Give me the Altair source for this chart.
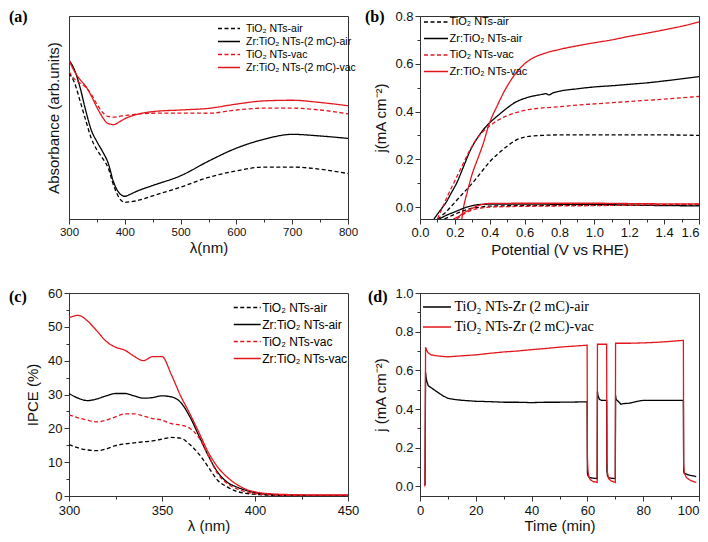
import altair as alt
import pandas as pd

RED = "#e3161d"
BLACK = "#000000"
DASH = [4, 2.5]
SOLID = [1, 0]
SANS = "Liberation Sans"
SERIF = "Liberation Serif"
W, H = 279, 203

# ---------------- (a) absorbance ----------------
a_wl = [300, 310, 320, 330, 340, 350, 360, 370, 380, 390, 400, 410, 420, 450, 500, 550, 600, 650, 700, 750, 800]
a_tio2_air = [0.718, 0.67, 0.58, 0.486, 0.397, 0.341, 0.30, 0.253, 0.165, 0.104, 0.082, 0.085, 0.089, 0.114, 0.157, 0.205, 0.237, 0.256, 0.256, 0.245, 0.224]
a_zr_air = [0.782, 0.734, 0.646, 0.534, 0.4375, 0.381, 0.333, 0.277, 0.181, 0.128, 0.112, 0.122, 0.135, 0.165, 0.213, 0.285, 0.349, 0.393, 0.417, 0.409, 0.397]
a_tio2_vac = [0.726, 0.689, 0.67, 0.649, 0.614, 0.566, 0.526, 0.505, 0.502, 0.505, 0.51, 0.513, 0.516, 0.521, 0.522, 0.521, 0.537, 0.546, 0.546, 0.537, 0.518]
a_zr_vac = [0.782, 0.726, 0.686, 0.654, 0.606, 0.55, 0.502, 0.47, 0.465, 0.478, 0.494, 0.505, 0.514, 0.529, 0.537, 0.545, 0.566, 0.582, 0.585, 0.574, 0.558]
a_names = ["TiO₂ NTs-air", "Zr:TiO₂ NTs-(2 mC)-air", "TiO₂ NTs-vac", "Zr:TiO₂ NTs-(2 mC)-vac"]

# ---------------- (b) J-V ----------------
b_names = ["TiO₂ NTs-air", "Zr:TiO₂ NTs-air", "TiO₂ NTs-vac", "Zr:TiO₂ NTs-vac"]
b_v_tio2_air = [0.10, 0.15, 0.20, 0.25, 0.30, 0.35, 0.40, 0.45, 0.50, 0.55, 0.60, 0.65, 0.70, 0.80, 1.0, 1.2, 1.4, 1.6]
b_j_tio2_air = [-0.05, -0.02, 0.02, 0.06, 0.10, 0.145, 0.19, 0.225, 0.255, 0.28, 0.293, 0.298, 0.30, 0.302, 0.302, 0.302, 0.302, 0.30]
b_v_zr_air = [0.08, 0.12, 0.15, 0.18, 0.21, 0.25, 0.29, 0.33, 0.37, 0.41, 0.45, 0.50, 0.55, 0.60, 0.65, 0.70, 0.72, 0.74, 0.76, 0.80, 0.90, 1.0, 1.1, 1.2, 1.3, 1.4, 1.5, 1.6]
b_j_zr_air = [-0.05, -0.01, 0.02, 0.06, 0.10, 0.17, 0.24, 0.29, 0.33, 0.36, 0.385, 0.415, 0.44, 0.455, 0.465, 0.472, 0.475, 0.47, 0.477, 0.485, 0.495, 0.503, 0.508, 0.514, 0.52, 0.528, 0.537, 0.546]
b_v_tio2_vac = [0.10, 0.13, 0.16, 0.20, 0.24, 0.28, 0.32, 0.36, 0.40, 0.45, 0.50, 0.55, 0.60, 0.70, 0.80, 0.90, 1.0, 1.2, 1.4, 1.6]
b_j_tio2_vac = [-0.05, 0.0, 0.05, 0.11, 0.17, 0.23, 0.28, 0.315, 0.34, 0.365, 0.383, 0.395, 0.405, 0.415, 0.42, 0.427, 0.432, 0.442, 0.452, 0.463]
b_v_zr_vac = [0.24, 0.245, 0.25, 0.27, 0.30, 0.33, 0.36, 0.40, 0.44, 0.48, 0.52, 0.56, 0.60, 0.65, 0.70, 0.80, 0.90, 1.0, 1.1, 1.2, 1.3, 1.4, 1.5, 1.6]
b_j_zr_vac = [-0.05, -0.02, 0.0, 0.06, 0.14, 0.20, 0.26, 0.355, 0.42, 0.48, 0.53, 0.57, 0.60, 0.625, 0.64, 0.66, 0.675, 0.688, 0.70, 0.715, 0.728, 0.742, 0.757, 0.775]
# dark currents
b_vd_tio2_air = [0.14, 0.2, 0.25, 0.3, 0.35, 0.4, 0.6, 1.0, 1.6]
b_jd_tio2_air = [-0.05, -0.03, -0.015, -0.005, 0.0, 0.004, 0.006, 0.007, 0.008]
b_vd_zr_air = [0.11, 0.15, 0.20, 0.25, 0.30, 0.35, 0.40, 0.6, 1.0, 1.3, 1.6]
b_jd_zr_air = [-0.05, -0.035, -0.02, -0.005, 0.006, 0.011, 0.012, 0.012, 0.011, 0.007, 0.005]
b_vd_tio2_vac = [0.21, 0.25, 0.3, 0.35, 0.4, 0.6, 1.0, 1.3, 1.6]
b_jd_tio2_vac = [-0.05, -0.03, -0.012, -0.004, 0.0, 0.003, 0.006, 0.009, 0.012]
b_vd_zr_vac = [0.19, 0.22, 0.25, 0.3, 0.35, 0.4, 0.6, 1.0, 1.3, 1.6]
b_jd_zr_vac = [-0.05, -0.04, -0.025, -0.005, 0.01, 0.015, 0.016, 0.016, 0.014, 0.013]

# ---------------- (c) IPCE ----------------
c_wl = [300, 305, 310, 315, 320, 325, 330, 335, 340, 345, 350, 355, 360, 365, 370, 375, 380, 385, 390, 395, 400, 410, 420, 430, 450]
c_tio2_air = [15.2, 14.2, 13.6, 13.4, 13.9, 14.9, 15.4, 15.7, 16.0, 16.3, 16.8, 17.3, 17.1, 15.2, 12.3, 8.5, 4.6, 2.7, 1.4, 0.8, 0.5, 0.2, 0.15, 0.1, 0.1]
c_zr_air = [30.3, 28.9, 28.2, 28.7, 29.6, 30.3, 30.3, 29.6, 28.9, 29.1, 29.6, 29.3, 27.7, 23.4, 17.6, 11.8, 7.0, 4.1, 2.7, 1.7, 1.0, 0.4, 0.3, 0.2, 0.2]
c_tio2_vac = [24.0, 23.1, 22.4, 21.9, 22.4, 23.4, 24.3, 24.3, 23.6, 22.9, 22.4, 21.4, 21.0, 20.0, 17.1, 11.8, 6.5, 3.7, 2.2, 1.25, 0.7, 0.3, 0.2, 0.2, 0.2]
c_zr_vac = [52.7, 53.4, 51.7, 48.8, 45.7, 44.0, 43.1, 41.3, 40.0, 41.2, 41.2, 35.9, 29.6, 24.3, 18.6, 12.8, 8.5, 5.6, 3.5, 2.0, 1.25, 0.6, 0.4, 0.3, 0.3]
c_names = ["TiO₂ NTs-air", "Zr:TiO₂ NTs-air", "TiO₂ NTs-vac", "Zr:TiO₂ NTs-vac"]

# ---------------- (d) chronoamperometry ----------------
d_names = ["TiO₂ NTs-Zr (2 mC)-air", "TiO₂ NTs-Zr (2 mC)-vac"]
d_t_air = [1.6, 1.8, 2.0, 2.2, 2.5, 3, 4, 5, 6, 8, 10, 12, 15, 18, 20, 25, 30, 35, 40, 45, 50, 55, 59.9,
           60.0, 60.2, 60.5, 61.5, 63.5, 63.6, 63.8, 64.3, 65, 66.9,
           67.0, 67.2, 67.6, 68.5, 70.0, 70.1, 70.3, 71, 72, 73, 75, 78, 80, 85, 90, 94.4,
           94.5, 94.7, 95.5, 96.5, 97.5, 99]
d_j_air = [0.005, 0.01, 0.59, 0.56, 0.54, 0.52, 0.51, 0.50, 0.49, 0.47, 0.455, 0.45, 0.445, 0.442, 0.44, 0.438, 0.435, 0.435, 0.433, 0.435, 0.435, 0.436, 0.437,
           0.07, 0.055, 0.048, 0.043, 0.04, 0.49, 0.47, 0.45, 0.445, 0.445,
           0.08, 0.055, 0.045, 0.042, 0.04, 0.47, 0.45, 0.44, 0.425, 0.428, 0.43, 0.44, 0.445, 0.445, 0.445, 0.445,
           0.08, 0.068, 0.063, 0.058, 0.055, 0.05]
d_t_vac = [1.6, 1.8, 2.0, 2.5, 3, 4, 6, 8, 10, 12, 15, 20, 25, 30, 35, 40, 45, 50, 55, 59.9,
           60.0, 60.2, 60.5, 61, 62, 63.5, 63.6, 64, 66.9,
           67.0, 67.2, 67.6, 68.5, 70.0, 70.1, 70.5, 75, 80, 85, 90, 94.4,
           94.5, 94.7, 95.5, 97, 99]
d_j_vac = [0.0, 0.01, 0.72, 0.70, 0.69, 0.68, 0.675, 0.672, 0.67, 0.672, 0.675, 0.68, 0.688, 0.695, 0.70, 0.707, 0.713, 0.72, 0.725, 0.73,
           0.155, 0.08, 0.05, 0.035, 0.025, 0.02, 0.735, 0.735, 0.735,
           0.13, 0.07, 0.04, 0.028, 0.02, 0.74, 0.74, 0.74, 0.742, 0.745, 0.75, 0.755,
           0.115, 0.07, 0.045, 0.03, 0.02]

panel_labels = ["(a)", "(b)", "(c)", "(d)"]

# wide, flat legend line: a custom path twice as wide as its size box
LEGEND_LINE = "M-2,0H2"


def long_df(series):
    rows = []
    for name, grp, xs, ys in series:
        for k, (x, y) in enumerate(zip(xs, ys)):
            rows.append({"x": x, "y": y, "s": name, "g": grp, "i": k})
    return pd.DataFrame(rows)


def tick_size(test):
    return {"condition": {"test": test, "value": 5}, "value": 3}


def make_axis(values, test, title, fmt, label_size, title_pad, labels=True, ticks=True,
              label_pad=2, last=None):
    kw = dict(values=values, title=title, labelFontSize=label_size, titleFontSize=15,
              titlePadding=title_pad, labelPadding=label_pad, labelFlush=False,
              labelOverlap=False, labels=labels, ticks=ticks)
    if labels:
        kw["labelExpr"] = f"({test}) ? datum.label : ''"
    if ticks:
        kw["tickSize"] = tick_size(test)
    if fmt:
        kw["format"] = fmt
    if last is not None:
        kw["labelAlign"] = {"condition": {"test": f"datum.value >= {last}", "value": "right"},
                            "value": "center"}
    return alt.Axis(**kw)


def make_legend(x, y, font, size, row_pad, line_len, label_off):
    half = line_len / 2.0
    return alt.Legend(orient="none", legendX=x, legendY=y, title=None, symbolType=LEGEND_LINE,
                      symbolSize=half * half, symbolStrokeWidth=1.5, labelFont=font,
                      labelFontSize=size, rowPadding=row_pad, padding=0, labelOffset=label_off,
                      labelLimit=300)


def panel(df, names, colors, dashes, xdom, ydom, xaxis, yaxis, legend, label, lx, ly, interp):
    lines = alt.Chart(df).mark_line(strokeWidth=1.3, clip=True, interpolate=interp).encode(
        x=alt.X("x:Q", scale=alt.Scale(domain=xdom, nice=False, zero=False), axis=xaxis),
        y=alt.Y("y:Q", scale=alt.Scale(domain=ydom, nice=False, zero=False), axis=yaxis),
        color=alt.Color("s:N", scale=alt.Scale(domain=names, range=colors), legend=legend),
        strokeDash=alt.StrokeDash("s:N", scale=alt.Scale(domain=names, range=dashes), legend=legend),
        detail="g:N",
        order="i:Q",
    )
    tag = alt.Chart(pd.DataFrame({"t": [label]})).mark_text(
        font=SERIF, fontSize=16, fontWeight="bold", align="left", baseline="alphabetic",
        color="#000"
    ).encode(text="t:N", x=alt.value(lx), y=alt.value(ly))
    return alt.layer(lines, tag).properties(width=W, height=H)


colors4 = [BLACK, BLACK, RED, RED]
dashes4 = [DASH, SOLID, DASH, SOLID]

# (a)
df_a = long_df([(n, n, a_wl, ys) for n, ys in zip(a_names, [a_tio2_air, a_zr_air, a_tio2_vac, a_zr_vac])])
ch_a = panel(
    df_a, a_names, colors4, dashes4, [300, 800], [0, 1],
    make_axis(list(range(300, 801, 50)), "datum.value % 100 === 0", "λ(nm)", None, 11.5, 3),
    make_axis([0, 1], "true", "Absorbance (arb.units)", None, 11, 8, labels=False, ticks=False),
    make_legend(153.5, 6, SANS, 10.5, 1, 22, 10.5), panel_labels[0], -60, 6, "monotone")

# (b)
b_series = [
    (b_names[0], "l0", b_v_tio2_air, b_j_tio2_air),
    (b_names[1], "l1", b_v_zr_air, b_j_zr_air),
    (b_names[2], "l2", b_v_tio2_vac, b_j_tio2_vac),
    (b_names[3], "l3", b_v_zr_vac, b_j_zr_vac),
    (b_names[0], "d0", b_vd_tio2_air, b_jd_tio2_air),
    (b_names[1], "d1", b_vd_zr_air, b_jd_zr_air),
    (b_names[2], "d2", b_vd_tio2_vac, b_jd_tio2_vac),
    (b_names[3], "d3", b_vd_zr_vac, b_jd_zr_vac),
]
df_b = long_df(b_series)
ch_b = panel(
    df_b, b_names, colors4, dashes4, [0, 1.6], [-0.05, 0.8],
    make_axis([round(k * 0.1, 1) for k in range(17)], "round(datum.value*10) % 2 === 0",
              "Potential (V vs RHE)", ".1f", 13, 3, last=1.55),
    make_axis([round(k * 0.1, 1) for k in range(9)], "round(datum.value*10) % 2 === 0",
              "j(mA cm⁻²)", ".1f", 13, 6),
    make_legend(9, -1, SANS, 11, 4.5, 24, 6.5), panel_labels[1], -55, 6, "monotone")

# (c)
df_c = long_df([(n, n, c_wl, ys) for n, ys in zip(c_names, [c_tio2_air, c_zr_air, c_tio2_vac, c_zr_vac])])
ch_c = panel(
    df_c, c_names, colors4, dashes4, [300, 450], [0, 60],
    make_axis(list(range(300, 451, 25)), "datum.value % 50 === 0", "λ (nm)", None, 13, 1,
              label_pad=3),
    make_axis(list(range(0, 61, 5)), "datum.value % 10 === 0", "IPCE (%)", None, 13, 7),
    make_legend(170.75, 7, SANS, 12, 3, 27, 7.5), panel_labels[2], -60, 9, "monotone")

# (d)
df_d = long_df([(d_names[0], "air", d_t_air, d_j_air), (d_names[1], "vac", d_t_vac, d_j_vac)])
ch_d = panel(
    df_d, d_names, [BLACK, RED], [SOLID, SOLID], [0, 100], [-0.05, 1.0],
    make_axis(list(range(0, 101, 10)), "datum.value % 20 === 0", "Time (min)", None, 13, 1,
              label_pad=3, last=99),
    make_axis([round(k * 0.1, 1) for k in range(11)], "round(datum.value*10) % 2 === 0",
              "j (mA cm⁻²)", ".1f", 13, 6),
    make_legend(9, 6, SERIF, 14, 5, 28, 9.5), panel_labels[3], -52, 9, "linear")

chart = alt.concat(ch_a, ch_b, ch_c, ch_d, columns=2, spacing={"row": 74, "column": 72},
                   bounds="flush").resolve_scale(
    color="independent", strokeDash="independent", x="independent", y="independent"
).properties(padding=0).configure_axis(
    labelFont=SANS, titleFont=SANS, titleFontWeight="normal", grid=False,
    domainColor="#333", tickColor="#333", labelColor="#111", titleColor="#111",
).configure_view(stroke="#333", strokeWidth=1)

chart.save("out.html", embed_options={"renderer": "svg", "actions": False})
